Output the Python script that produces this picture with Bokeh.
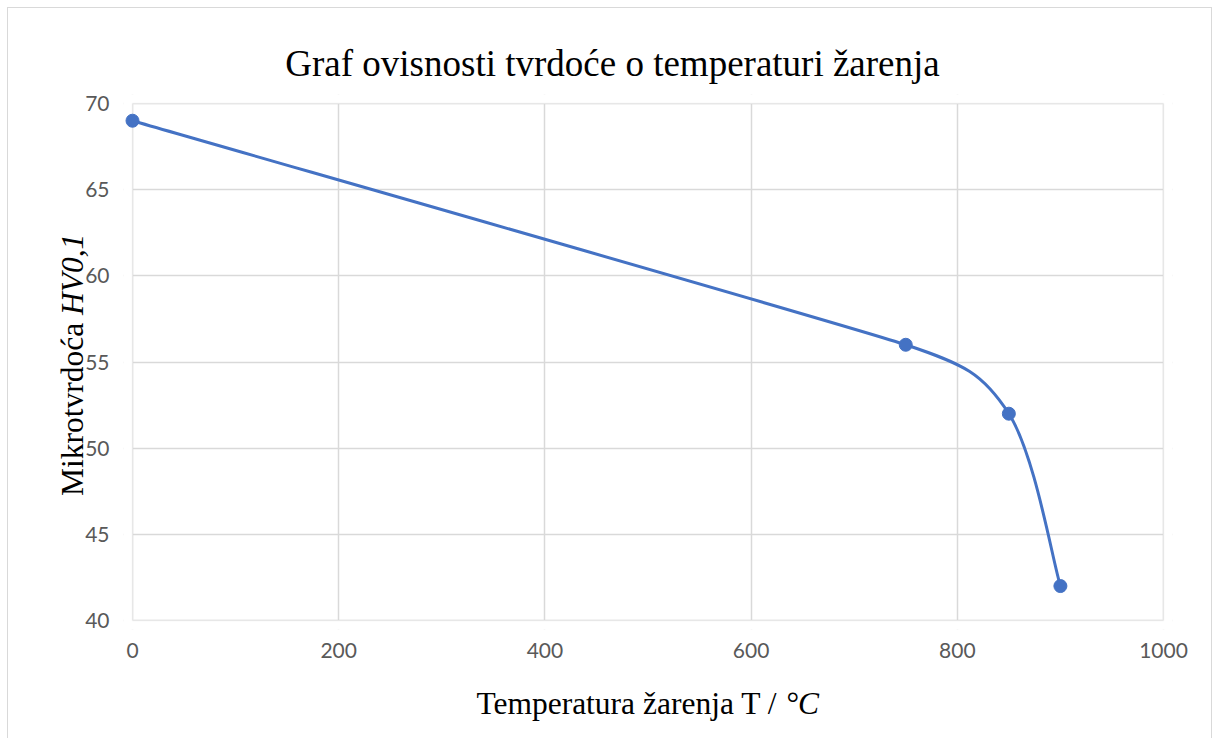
import numpy as np
from bokeh.plotting import figure
from bokeh.models import FixedTicker, Label, Range1d, InlineStyleSheet, BoxAnnotation
from bokeh.embed import file_html
from bokeh.resources import INLINE

# ---- data ----
temperature = [0, 750, 850, 900]
hardness = [69, 56, 52, 42]
x_ticks = [0, 200, 400, 600, 800, 1000]
y_ticks = [40, 45, 50, 55, 60, 65, 70]

title_text = "Graf ovisnosti tvrdoće o temperaturi žarenja"
xlabel_main = "Temperatura žarenja T / "
xlabel_ital = "°C"
ylabel_main = "Mikrotvrdoća "
ylabel_ital = "HV0,1"

BLUE = "#4472c4"
GRID = "#d9d9d9"
TICK = "#595959"
SERIF = "Liberation Serif"

# plot-area geometry (page pixels) of the value box 0..1000 x 40..70
FL, FT, FR, FB = 132, 103, 1163, 620
XMIN, XMAX, YMIN, YMAX = 0, 1000, 40, 70
kx = (FR - FL) / (XMAX - XMIN)
ky = (FB - FT) / (YMAX - YMIN)
PAD = 9  # px of extra frame around the value box so markers and border are not cut

def to_dx(px):
    return XMIN + (px - FL) / kx

def to_dy(py):
    return YMIN + (FB - py) / ky

p = figure(width=1203, height=730, output_backend="svg", toolbar_location=None,
           x_range=Range1d(XMIN - PAD / kx, XMAX + PAD / kx),
           y_range=Range1d(YMIN - PAD / ky, YMAX + PAD / ky),
           min_border_left=FL - PAD - 8, min_border_right=1211 - FR - PAD,
           min_border_top=FT - PAD - 8, min_border_bottom=738 - FB - PAD)
p.stylesheets = [InlineStyleSheet(css=":host { margin: 8px; outline: 1px solid #d9d9d9; }")]
p.title = None
p.background_fill_color = "white"
p.border_fill_color = "white"
p.outline_line_color = None

for ax, ticks in ((p.xaxis, x_ticks), (p.yaxis, y_ticks)):
    ax.ticker = FixedTicker(ticks=ticks)
    ax.axis_line_color = None
    ax.major_tick_line_color = None
    ax.minor_tick_line_color = None
    ax.major_tick_out = 0
    ax.major_tick_in = 0
    ax.major_label_text_font = "Lato"
    ax.major_label_text_font_size = "21px"
    ax.major_label_text_color = TICK
p.xaxis.major_label_standoff = 22 - PAD
p.yaxis.major_label_standoff = 23 - PAD

p.xgrid.ticker = FixedTicker(ticks=x_ticks)
p.ygrid.ticker = FixedTicker(ticks=y_ticks)
p.grid.grid_line_color = GRID
p.grid.grid_line_width = 1.5

# hide grid stubs outside the value box and draw the plot-area border
for kw in (dict(right=XMIN), dict(left=XMAX), dict(top=YMIN), dict(bottom=YMAX)):
    p.add_layout(BoxAnnotation(fill_color="white", fill_alpha=1.0, line_color=None,
                               level="underlay", **kw))
p.add_layout(BoxAnnotation(left=XMIN, right=XMAX, bottom=YMIN, top=YMAX,
                           fill_alpha=0.0, line_color=GRID, line_width=1.5,
                           level="underlay"))

# ---- smoothed line (Excel-like Bezier through the points, tangents in screen space) ----
P = np.column_stack([np.array(temperature, float) * kx, np.array(hardness, float) * ky])
n = len(P)
out_c = np.zeros_like(P)
in_c = np.zeros_like(P)
for i in range(n):
    prv = P[max(i - 1, 0)]
    nxt = P[min(i + 1, n - 1)]
    T = nxt - prv
    dt = np.hypot(*T)
    f = 1.0 / 6.0
    lims = []
    if i > 0:
        lims.append(np.hypot(*(P[i] - prv)) / 2)
    if i < n - 1:
        lims.append(np.hypot(*(nxt - P[i])) / 2)
    if dt > 0 and dt * f > min(lims):
        f = min(lims) / dt
    out_c[i] = P[i] + f * T
    in_c[i] = P[i] - f * T
seg = range(n - 1)
p.bezier(x0=[P[i, 0] / kx for i in seg], y0=[P[i, 1] / ky for i in seg],
         x1=[P[i + 1, 0] / kx for i in seg], y1=[P[i + 1, 1] / ky for i in seg],
         cx0=[out_c[i, 0] / kx for i in seg], cy0=[out_c[i, 1] / ky for i in seg],
         cx1=[in_c[i + 1, 0] / kx for i in seg], cy1=[in_c[i + 1, 1] / ky for i in seg],
         line_color=BLUE, line_width=3)
p.scatter(temperature, hardness, size=13, marker="circle", fill_color=BLUE, line_color=BLUE)

# ---- texts (positioned via the plot's data scales, placed in side panels so not clipped) ----
def lab(text, px, py, side, **kw):
    opts = dict(text_font=SERIF, text_color="black", text_baseline="alphabetic")
    opts.update(kw)
    p.add_layout(Label(x=to_dx(px), y=to_dy(py), text=text, **opts), side)

lab(title_text, 612, 63, "above", text_font_size="37px", text_align="center")
lab(xlabel_main, 785, 703, "below", text_font_size="31.5px", text_align="right")
lab(xlabel_ital, 785, 703, "right", text_font_size="31.5px", text_align="left",
    text_font_style="italic")
lab(ylabel_main, 72, 314.5, "left", text_font_size="31.5px", text_align="right",
    angle=np.pi / 2)
lab(ylabel_ital, 72, 314.5, "left", text_font_size="31.5px", text_align="left",
    angle=np.pi / 2, text_font_style="italic")

open("out.html", "w").write(file_html(p, INLINE))
